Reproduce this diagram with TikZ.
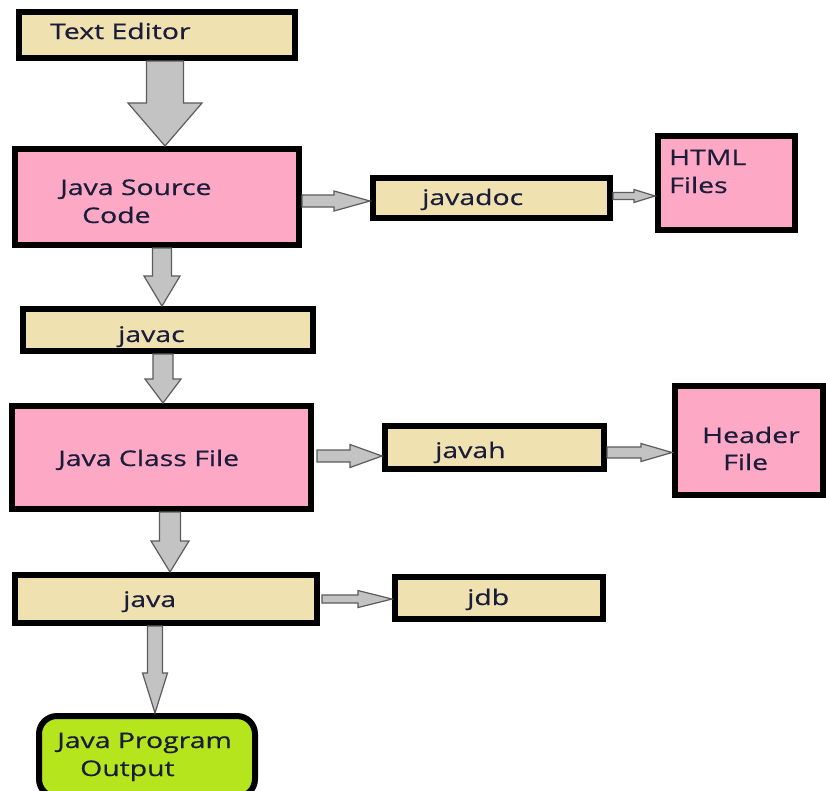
\documentclass[tikz,border=0pt]{standalone}
\usepackage{fontspec}
\newfontfamily\lblfont[FakeBold=0.5]{Open Sans}
\usetikzlibrary{calc}

\definecolor{beige}{HTML}{EFE2B0}
\definecolor{pinkfill}{HTML}{FDA9C6}
\definecolor{limefill}{HTML}{B5E51D}
\definecolor{arrowfill}{HTML}{C3C3C3}
\definecolor{arrowline}{HTML}{5C5C5C}
\definecolor{ink}{HTML}{1A1C3A}

% widened text, as set in the flowchart
\newcommand\wt[1]{\scalebox{1.32}[1]{#1}}

% block arrow pointing down: start, tip, shaft half width, head half width, head length
\newcommand\blkdown[5]{%
  \filldraw[blockarrow] ([shift={(-#3,0)}]#1) -- ([shift={(-#3,-#5)}]#2)
    -- ([shift={(-#4,-#5)}]#2) -- (#2) -- ([shift={(#4,-#5)}]#2)
    -- ([shift={(#3,-#5)}]#2) -- ([shift={(#3,0)}]#1) -- cycle;}
% block arrow pointing right: start, tip, shaft half width, head half width, head length
\newcommand\blkright[5]{%
  \filldraw[blockarrow] ([shift={(0,-#3)}]#1) -- ([shift={(-#5,-#3)}]#2)
    -- ([shift={(-#5,-#4)}]#2) -- (#2) -- ([shift={(-#5,#4)}]#2)
    -- ([shift={(-#5,#3)}]#2) -- ([shift={(0,#3)}]#1) -- cycle;}

\tikzset{
  box/.style={draw=black, line width=6pt, inner sep=0pt},
  toolbox/.style={box, fill=beige},
  filebox/.style={box, fill=pinkfill},
  outbox/.style={box, fill=limefill, rounded corners=18pt},
  lbl/.style={anchor=base west, inner sep=0pt, text=ink,
    font=\lblfont\fontsize{21.5}{28}\selectfont},
  blockarrow/.style={fill=arrowfill, draw=arrowline, line width=1.2pt, line join=miter}
}

\begin{document}
\begin{tikzpicture}[x=1pt, y=-1pt]
\useasboundingbox (0,0) rectangle (826,790);
\clip (0,0) rectangle (826,790);
\fill[white] (0,0) rectangle (826,790);

% boxes
\node[toolbox, minimum width=276pt, minimum height=46pt] (te) at (157,35) {};
\node[filebox, minimum width=284pt, minimum height=96pt] (jsc) at (157,197) {};
\node[toolbox, minimum width=237pt, minimum height=40pt] (jd) at (491.5,198) {};
\node[filebox, minimum width=137pt, minimum height=94pt] (html) at (726.5,183) {};
\node[toolbox, minimum width=290pt, minimum height=42pt] (jc) at (168,330) {};
\node[filebox, minimum width=299pt, minimum height=103pt] (jcf) at (161.5,457.5) {};
\node[toolbox, minimum width=219pt, minimum height=43pt] (jh) at (494.5,447.5) {};
\node[filebox, minimum width=148pt, minimum height=109pt] (hdr) at (749,440.5) {};
\node[toolbox, minimum width=302pt, minimum height=48pt] (jv) at (166,599) {};
\node[toolbox, minimum width=208pt, minimum height=42pt] (jdb) at (499,598) {};
\node[outbox, minimum width=216pt, minimum height=81pt] (out) at (147,756.5) {};

% labels
\node[lbl] (te-t) at (50,39) {\wt{Text Editor}};
\node[lbl] (jsc-t1) at (60,195) {\wt{Java Source}};
\node[lbl] (jsc-t2) at (82,223) {\wt{Code}};
\node[lbl] (jd-t) at (422,205) {\wt{javadoc}};
\node[lbl] (html-t1) at (669,165) {\wt{HTML}};
\node[lbl] (html-t2) at (669,193) {\wt{Files}};
\node[lbl] (jc-t) at (118,342) {\wt{javac}};
\node[lbl] (jcf-t) at (58,466) {\wt{Java Class File}};
\node[lbl] (jh-t) at (435,458) {\wt{javah}};
\node[lbl] (hdr-t1) at (702,443) {\wt{Header}};
\node[lbl] (hdr-t2) at (723,470) {\wt{File}};
\node[lbl] (jv-t) at (123,607) {\wt{java}};
\node[lbl] (jdb-t) at (467,605) {\wt{jdb}};
\node[lbl] (out-t1) at (57,748) {\wt{Java Program}};
\node[lbl] (out-t2) at (80,776) {\wt{Output}};

% arrow end points
\coordinate (a1s) at ([xshift=8pt]te.south);
\coordinate (a1e) at (a1s |- jsc.north);
\coordinate (a2s) at ([xshift=5pt]jsc.south);
\coordinate (a2e) at (a2s |- jc.north);
\coordinate (a3s) at ([xshift=-5pt]jc.south);
\coordinate (a3e) at (a3s |- jcf.north);
\coordinate (a4s) at ([xshift=8.5pt]jcf.south);
\coordinate (a4e) at (a4s |- jv.north);
\coordinate (a5s) at ([xshift=-11pt]jv.south);
\coordinate (a5e) at (a5s |- out.north);
\coordinate (b1s) at ([yshift=-4pt]jsc.east);
\coordinate (b1e) at (b1s -| jd.west);
\coordinate (b2s) at ([yshift=2pt]jd.east);
\coordinate (b2e) at (b2s -| html.west);
\coordinate (b3s) at ([xshift=3pt,yshift=1.5pt]jcf.east);
\coordinate (b3e) at (b3s -| jh.west);
\coordinate (b4s) at ([yshift=-5pt]jh.east);
\coordinate (b4e) at (b4s -| hdr.west);
\coordinate (b5s) at ([xshift=2pt]jv.east);
\coordinate (b5e) at (b5s -| jdb.west);

% downward flow
\blkdown{a1s}{a1e}{18.5}{37}{43}
\blkdown{a2s}{a2e}{9.5}{18}{30}
\blkdown{a3s}{a3e}{10}{18}{24}
\blkdown{a4s}{a4e}{10.5}{19}{31}
\blkdown{a5s}{a5e}{7.5}{12.5}{40}

% side tools
\blkright{b1s}{b1e}{6}{10}{36}
\blkright{b2s}{b2e}{3.5}{6.5}{21}
\blkright{b3s}{b3e}{6}{11.5}{32}
\blkright{b4s}{b4e}{5.5}{9}{31}
\blkright{b5s}{b5e}{4}{8.5}{34}
\end{tikzpicture}
\end{document}
